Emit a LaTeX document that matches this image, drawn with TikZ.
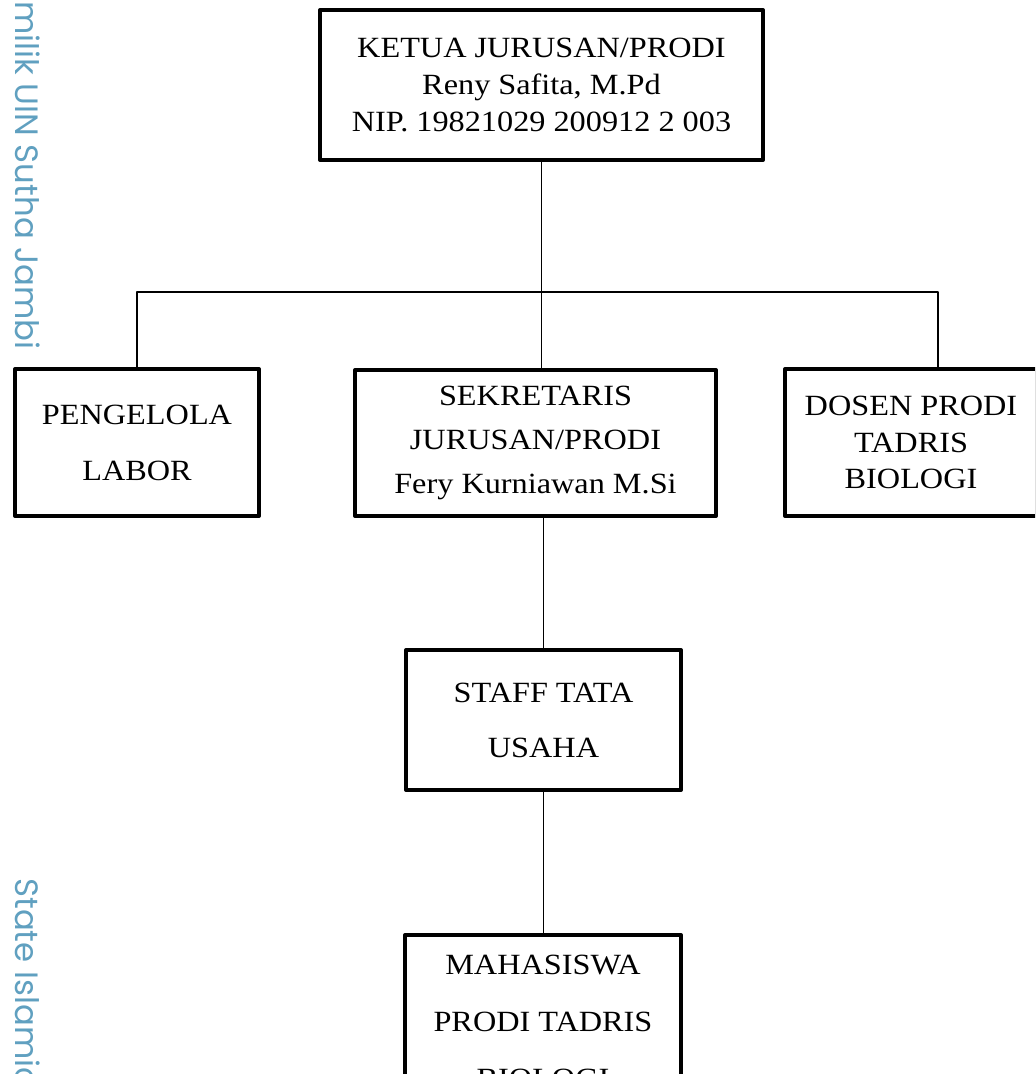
\documentclass[tikz,border=0pt]{standalone}
\usepackage{fontspec}
\setmainfont{Liberation Serif}[FakeStretch=1.1]
\newfontfamily\wmfont{Poppins}
\definecolor{wmblue}{RGB}{96,160,192}
\tikzset{
  kotak/.style={draw,line width=2.3pt,align=center,inner sep=0pt},
  garis/.style={line width=1.1pt},
  tepi/.style={rotate=-90,text=wmblue,inner sep=0pt,font=\wmfont\fontsize{18.4}{22}\selectfont}
}

\begin{document}
\begin{tikzpicture}[line cap=round,line join=round,x=1.0cm,y=1.0cm]
      \useasboundingbox (0.,0.) rectangle (20.7,21.48);
      \clip(0.,0.) rectangle (20.7,21.48);
      % tulisan tepi
      \node[tepi,anchor=base east] (wm1) at (0.30,14.48) {milik UIN Sutha Jambi};
      \node[tepi,anchor=base west] (wm2) at (0.30,3.92) {State Islamic};
      % kotak
      \node[kotak,minimum width=8.86cm,minimum height=3.0cm,font=\fontsize{16.7}{21.3}\selectfont] (ketua) at (10.83,19.78) {KETUA JURUSAN/PRODI\\Reny Safita, M.Pd\\NIP. 19821029 200912 2 003};
      \node[kotak,minimum width=4.88cm,minimum height=2.94cm,font=\fontsize{16.7}{31.9}\selectfont] (labor) at (2.74,12.63) {PENGELOLA\\LABOR};
      \node[kotak,minimum width=7.22cm,minimum height=2.92cm,font=\fontsize{16.7}{24.8}\selectfont] (sekre) at (10.71,12.62) {SEKRETARIS\\JURUSAN/PRODI\\Fery Kurniawan M.Si};
      \node[kotak,minimum width=5.04cm,minimum height=2.94cm,font=\fontsize{16.7}{20.8}\selectfont] (dosen) at (18.22,12.63) {DOSEN PRODI\\TADRIS\\BIOLOGI};
      \node[kotak,minimum width=5.50cm,minimum height=2.80cm,font=\fontsize{16.7}{31.3}\selectfont] (staff) at (10.87,7.08) {STAFF TATA\\USAHA};
      \node[kotak,minimum width=5.52cm,minimum height=3.48cm,font=\fontsize{16.7}{32.4}\selectfont] (mhs) at (10.86,1.04) {MAHASISWA\\PRODI TADRIS\\BIOLOGI};
      % garis
      \coordinate (hub) at (ketua.south |- 0,15.64);
      \coordinate (kanan) at (18.76,15.64);
      \draw [garis] (ketua.south) -- (hub) -- (hub |- sekre.north);
      \draw [garis] (labor.north) -- (labor.north |- hub) -- (kanan) -- (kanan |- dosen.north);
      \draw [garis] (sekre.south -| staff.north) -- (staff.north);
      \draw [garis] (staff.south) -- (staff.south |- mhs.north);
\end{tikzpicture}
\end{document}
